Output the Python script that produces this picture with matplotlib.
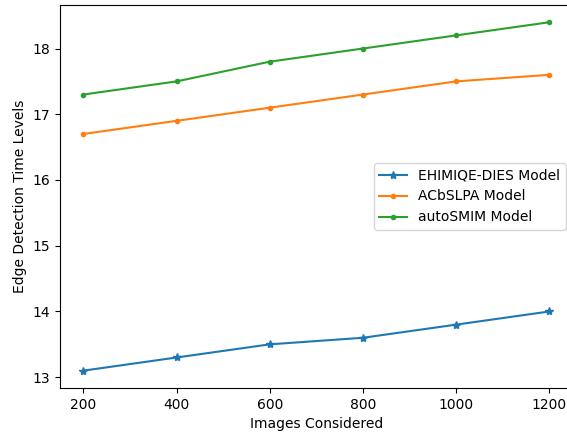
import matplotlib
matplotlib.use("Agg")
import matplotlib.pyplot as plt

images = [200, 400, 600, 800, 1000, 1200]
ehimiqe = [13.1, 13.3, 13.5, 13.6, 13.8, 14.0]
acbslpa = [16.7, 16.9, 17.1, 17.3, 17.5, 17.6]
autosmim = [17.3, 17.5, 17.8, 18.0, 18.2, 18.4]

fig = plt.figure(figsize=(5.67, 4.37), dpi=100)
# right spine sits just past the image edge in the reference
ax = fig.add_axes([0.106, 0.112, 0.904, 0.877])
ax.plot(images, ehimiqe, marker="*", label="EHIMIQE-DIES Model")
ax.plot(images, acbslpa, marker=".", label="ACbSLPA Model")
ax.plot(images, autosmim, marker=".", label="autoSMIM Model")
ax.set_xlabel("Images Considered")
ax.set_ylabel("Edge Detection Time Levels")
ax.legend(loc="center right")
fig.savefig("out.png", dpi=100)
